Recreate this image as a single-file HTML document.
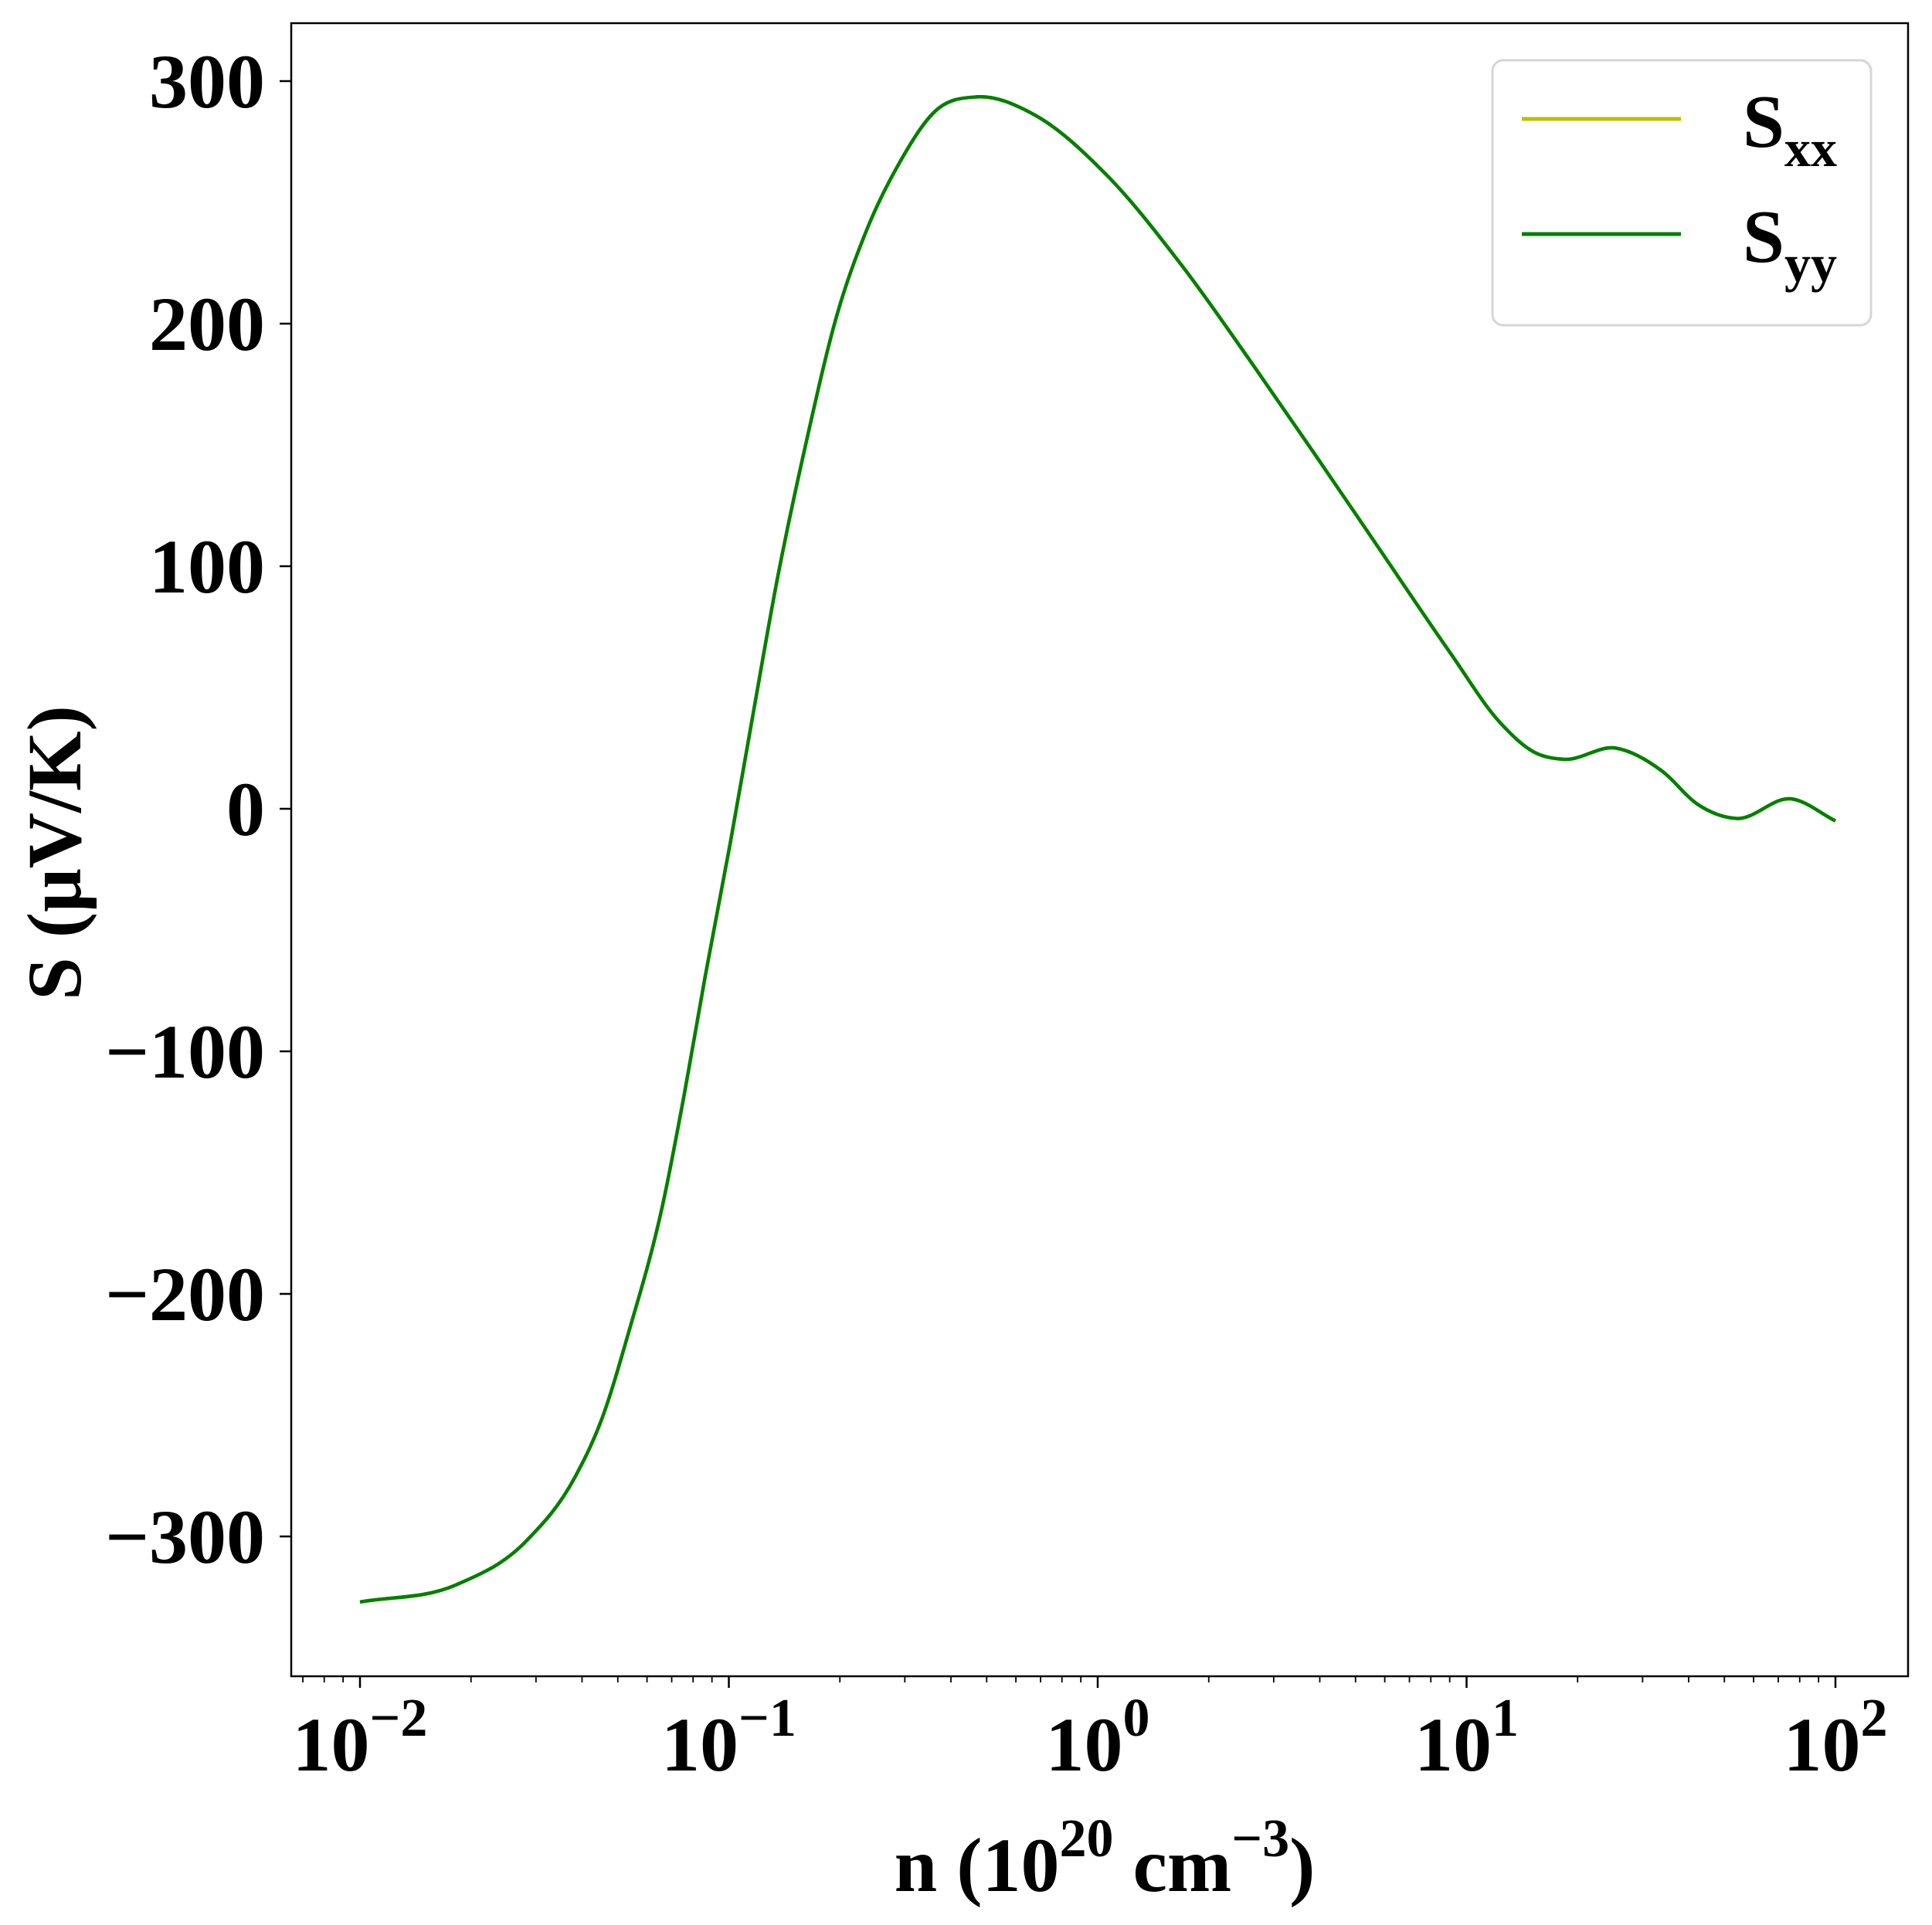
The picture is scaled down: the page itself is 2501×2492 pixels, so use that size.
<!DOCTYPE html>
<html><head><meta charset="utf-8"><style>html,body{margin:0;padding:0;background:#fff}svg{display:block}text{font-family:"Liberation Serif",serif;font-weight:bold;fill:#000}</style></head>
<body>
<svg id="chart" width="2501" height="2492" viewBox="0 0 2501 2492" xmlns="http://www.w3.org/2000/svg">
<rect x="0" y="0" width="2501" height="2492" fill="#fff"/>
<g id="grid-ticks"></g>
<g id="series"></g>
<rect x="377" y="30" width="2093" height="2140" fill="none" stroke="#000" stroke-width="2.5"/>
<text transform="translate(104,1104) rotate(-90)" text-anchor="middle" font-size="100">S (μV/K)</text>
<text x="1430" y="2448" text-anchor="middle" font-size="100">n (10<tspan font-size="70" dy="-45">20</tspan><tspan dy="45"> cm</tspan><tspan font-size="70" dy="-45">−3</tspan><tspan dy="45">)</tspan></text>
<g>
<rect x="1932" y="78" width="490" height="343" rx="14" fill="#fff" stroke="#d6d6d6" stroke-width="3"/>
<line x1="1970" y1="154" x2="2176" y2="154" stroke="#bfbf00" stroke-width="5"/>
<line x1="1970" y1="303" x2="2176" y2="303" stroke="#008000" stroke-width="5"/>
<text x="2256" y="190" font-size="97">S<tspan font-size="68" dy="25">xx</tspan></text>
<text x="2256" y="339" font-size="97">S<tspan font-size="68" dy="25">yy</tspan></text>
</g>
</svg>
<script>
const logN = [-2,-1.74,-1.55,-1.417,-1.343,-1.27,-1.18,-1.12,-1.064,-0.996,-0.936,-0.869,-0.789,-0.708,-0.628,-0.535,-0.442,-0.328,-0.175,0.026,0.226,0.427,0.584,0.757,0.957,1.091,1.184,1.264,1.405,1.532,1.625,1.732,1.88,2.0];
const sxx = [-327,-320,-302,-275.5,-251,-215,-163.7,-117,-69,-14,37.6,94.4,152,203,238,267,287.4,293.5,286.4,261,224.4,181.7,147.2,108.6,64,35.5,23.3,20.4,25,15.3,2,-4,4.1,-5];
const syy = sxx.slice();
const yTicks = [-300,-200,-100,0,100,200,300];
const yTickLabels = ["−300","−200","−100","0","100","200","300"];
const xDecades = [-2,-1,0,1,2];
const xDecadeLabels = ["−2","−1","0","1","2"];
const NS="http://www.w3.org/2000/svg";
function xs(l){return 466+(l+2)*477.5;}
function ys(v){return 1047-v*3.14;}
const tg=document.getElementById('grid-ticks');
yTicks.forEach((v,i)=>{
  const t=document.createElementNS(NS,'line');
  
  
  t.setAttribute('x1',362);t.setAttribute('x2',377);t.setAttribute('y1',ys(v));t.setAttribute('y2',ys(v));t.setAttribute('stroke','#000');t.setAttribute('stroke-width',2.5);tg.appendChild(t);
  const tx=document.createElementNS(NS,'text');
  
  
  tx.setAttribute('x',343);tx.setAttribute('y',ys(v)+34);tx.setAttribute('text-anchor','end');tx.setAttribute('font-size','100');tx.textContent=yTickLabels[i];tg.appendChild(tx);
});
for(let d=-3;d<=2;d++){for(let k=1;k<10;k++){const l=d+Math.log10(k);const x=xs(l);if(x<378||x>2469)continue;
  const t=document.createElementNS(NS,'line');
  
  
  t.setAttribute('x1',x);t.setAttribute('x2',x);t.setAttribute('y1',2170);t.setAttribute('y2',k===1?2185:2178);t.setAttribute('stroke','#000');t.setAttribute('stroke-width',k===1?2.5:1.8);tg.appendChild(t);}}
xDecades.forEach((d,i)=>{
  const tx=document.createElementNS(NS,'text');
  
  
  tx.setAttribute('x',xs(d));tx.setAttribute('y',2292);tx.setAttribute('text-anchor','middle');tx.setAttribute('font-size','100');
  tx.innerHTML='10<tspan font-size="70" dy="-45">'+xDecadeLabels[i]+'</tspan>';tg.appendChild(tx);
});
function smoothPath(xa,ya){
  const X=xa.map(xs),Y=ya.map(ys),n=X.length;
  const m=[];for(let i=0;i<n-1;i++)m.push((Y[i+1]-Y[i])/(X[i+1]-X[i]));
  const d=[];
  for(let i=0;i<n;i++){
    if(i===0)d.push(m[0]);else if(i===n-1)d.push(m[n-2]);
    else{const h0=X[i]-X[i-1],h1=X[i+1]-X[i];d.push((h1*m[i-1]+h0*m[i])/(h0+h1));}
  }
  let s='M'+X[0]+','+Y[0];
  for(let i=0;i<n-1;i++){const h=X[i+1]-X[i];
    s+=' C'+(X[i]+h/3)+','+(Y[i]+d[i]*h/3)+' '+(X[i+1]-h/3)+','+(Y[i+1]-d[i+1]*h/3)+' '+X[i+1]+','+Y[i+1];}
  return s;}
const sg=document.getElementById('series');
[[sxx,'#bfbf00','line-sxx'],[syy,'#008000','line-syy']].forEach(([arr,c,n])=>{
  const p=document.createElementNS(NS,'path');
  
  
  p.setAttribute('d',smoothPath(logN,arr));p.setAttribute('fill','none');p.setAttribute('stroke',c);p.setAttribute('stroke-width',4.5);sg.appendChild(p);
});
</script>
</body></html>
